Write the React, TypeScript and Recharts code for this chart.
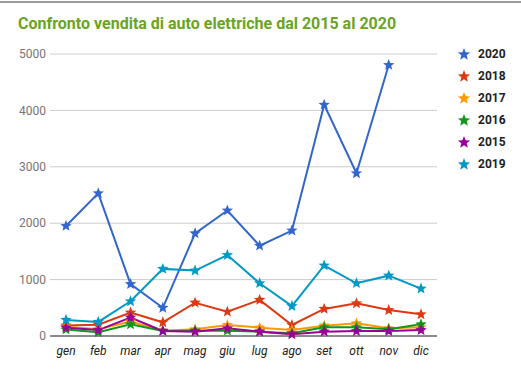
import React from 'react';
import { LineChart, Line, XAxis, YAxis, CartesianGrid } from 'recharts';

const months = ['gen', 'feb', 'mar', 'apr', 'mag', 'giu', 'lug', 'ago', 'set', 'ott', 'nov', 'dic'];
const s2020 = [1950, 2530, 920, 500, 1820, 2225, 1600, 1870, 4100, 2885, 4805, null];
const s2018 = [185, 200, 415, 243, 590, 430, 640, 195, 480, 580, 460, 385];
const s2017 = [165, 120, 255, 95, 118, 195, 148, 105, 183, 225, 136, 154];
const s2016 = [115, 65, 207, 90, 95, 95, 77, 50, 154, 154, 118, 207];
const s2015 = [148, 105, 325, 90, 77, 136, 77, 30, 77, 88, 88, 105];
const s2019 = [285, 250, 615, 1190, 1160, 1435, 935, 530, 1250, 935, 1070, 840];
const yTicks = [0, 1000, 2000, 3000, 4000, 5000];

const series = [
  { key: '2020', values: s2020, color: '#3366cc' },
  { key: '2018', values: s2018, color: '#dc3912' },
  { key: '2017', values: s2017, color: '#ff9900' },
  { key: '2016', values: s2016, color: '#109618' },
  { key: '2015', values: s2015, color: '#990099' },
  { key: '2019', values: s2019, color: '#0099c6' },
];

const data = months.map((m, i) => {
  const row: any = { month: m };
  series.forEach((s) => {
    row[s.key] = s.values[i];
  });
  return row;
});

function starPath(cx: number, cy: number, R: number, r: number) {
  let d = '';
  for (let i = 0; i < 10; i++) {
    const ang = -Math.PI / 2 + (i * Math.PI) / 5;
    const rad = i % 2 === 0 ? R : r;
    const x = cx + rad * Math.cos(ang);
    const y = cy + rad * Math.sin(ang);
    d += (i === 0 ? 'M' : 'L') + x.toFixed(2) + ',' + y.toFixed(2);
  }
  return d + 'Z';
}

const makeDot = (color: string) => (props: any) => {
  const { cx, cy, index } = props;
  if (cx == null || cy == null || props.value == null || isNaN(cy)) {
    return <g key={`d-${index}`} />;
  }
  return <path key={`d-${index}`} d={starPath(cx, cy, 6, 2.6)} fill={color} stroke="none" />;
};

const LegendBox = () => (
  <div style={{ position: 'absolute', left: 457, top: 43, fontFamily: 'Roboto, sans-serif' }}>
    {series.map((s) => (
      <div key={s.key} style={{ display: 'flex', alignItems: 'center', height: 22 }}>
        <svg width={14} height={14} style={{ marginRight: 7 }}>
          <path d={starPath(7, 7.5, 6.5, 2.8)} fill={s.color} />
        </svg>
        <span style={{ fontSize: 12, fontWeight: 700, color: '#222' }}>{s.key}</span>
      </div>
    ))}
  </div>
);

export default function App() {
  return (
    <div style={{ position: 'absolute', left: 0, top: 0, width: 521, height: 372, background: '#fff' }}>
      <div style={{ position: 'absolute', left: 0, top: 1, width: 521, height: 2, background: '#9a9a9a' }} />
      <div
        style={{
          position: 'absolute',
          left: 18,
          top: 14,
          fontFamily: 'Roboto, sans-serif',
          fontWeight: 700,
          fontSize: 16,
          color: '#6aa422',
          whiteSpace: 'nowrap',
        }}
      >
        Confronto vendita di auto elettriche dal 2015 al 2020
      </div>
      <div style={{ position: 'absolute', left: 0, top: 0 }}>
        <LineChart
          width={521}
          height={372}
          data={data}
          margin={{ top: 54, right: 84, bottom: 6, left: 8 }}
        >
          <CartesianGrid stroke="#cccccc" vertical={false} />
          <XAxis
            dataKey="month"
            height={30}
            padding={{ left: 16, right: 16 }}
            axisLine={{ stroke: '#333', strokeWidth: 1 }}
            tickLine={false}
            tick={{ fill: '#222', fontSize: 12, fontStyle: 'italic', fontFamily: 'Roboto, sans-serif' }}
            tickMargin={4}
          />
          <YAxis
            width={42}
            domain={[0, 5000]}
            ticks={yTicks}
            axisLine={false}
            tickLine={false}
            tickMargin={-2}
            tick={{ fill: '#757575', fontSize: 12, fontFamily: 'Roboto, sans-serif' }}
          />
          {series.map((s) => (
            <Line
              key={s.key}
              type="linear"
              dataKey={s.key}
              stroke={s.color}
              strokeWidth={2}
              dot={makeDot(s.color)}
              activeDot={false}
              isAnimationActive={false}
            />
          ))}
        </LineChart>
      </div>
      <LegendBox />
    </div>
  );
}
